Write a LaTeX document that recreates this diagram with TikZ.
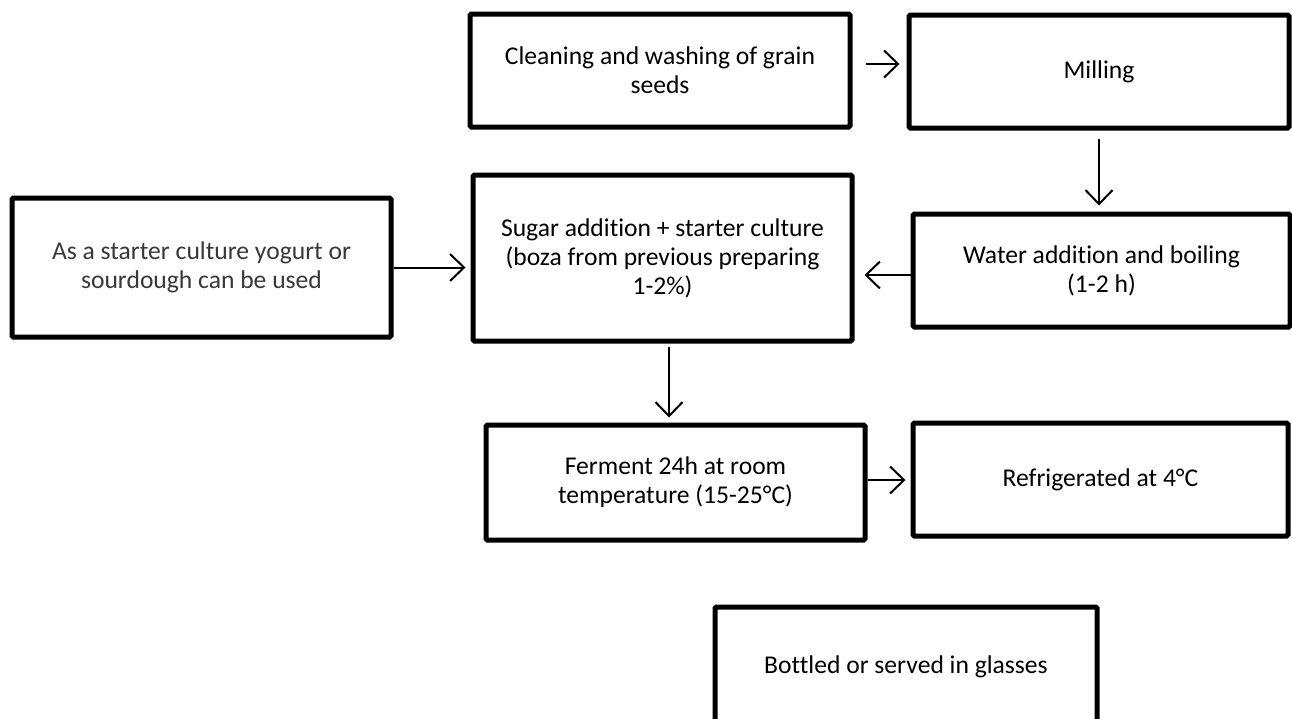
\documentclass[tikz,border=0pt]{standalone}
\usepackage{fontspec}
\setmainfont{Carlito}[Ligatures=NoCommon]
\usetikzlibrary{arrows.meta}
\begin{document}
\begin{tikzpicture}[x=1pt,y=-1pt,
  box/.style={draw=black, line width=5pt, rounded corners=1.5pt, inner sep=0pt,
    align=center, font=\fontsize{25.6}{29}\selectfont, text=black},
  arr/.style={line width=2pt, -{Straight Barb[length=14pt,width=27pt]}}]
\useasboundingbox[fill=white] (0,0) rectangle (1292,718);

\node[box, minimum width=380pt, minimum height=113pt] (clean) at (660,70.5)
  {Cleaning and washing of grain\\seeds};
\node[box, minimum width=380pt, minimum height=113pt] (mill) at (1099,71.5)
  {Milling};
\node[box, minimum width=377pt, minimum height=113pt] (water) at (1101.5,270.5)
  {Water addition and boiling\\(1-2 h)};
\node[box, minimum width=379pt, minimum height=166pt] (sugar) at (662.5,258)
  {Sugar addition + starter culture\\(boza from previous preparing\\1-2\%)};
\node[box, minimum width=379pt, minimum height=139pt, text=black!78] (starter) at (201.5,267.5)
  {As a starter culture yogurt or\\sourdough can be used};
\node[box, minimum width=379pt, minimum height=115pt] (ferment) at (675.5,482.5)
  {Ferment 24h at room\\temperature (15-25°C)};
\node[box, minimum width=375pt, minimum height=113pt] (fridge) at (1100.5,479.5)
  {Refrigerated at 4°C};
\node[box, minimum width=382pt, minimum height=120pt] (bottle) at (906,667)
  {Bottled or served in glasses};

\draw[arr, shorten <=13pt, shorten >=7pt] ([yshift=6.5pt]clean.east) -- ([yshift=6.5pt]clean.east -| mill.west);
\draw[arr, shorten <=8pt, shorten >=6pt] (mill.south) -- (mill.south |- water.north);
\draw[arr, shorten >=10pt] ([yshift=-4.5pt]water.west) -- ([yshift=-4.5pt]water.west -| sugar.east);
\draw[arr, shorten >=5pt] (starter.east) -- (starter.east -| sugar.west);
\draw[arr, shorten <=3pt, shorten >=5pt] ([xshift=6.5pt]sugar.south) -- ([xshift=6.5pt]sugar.south |- ferment.north);
\draw[arr, shorten >=5pt] ([yshift=2.5pt]ferment.east) -- ([yshift=2.5pt]ferment.east -| fridge.west);
\end{tikzpicture}
\end{document}
